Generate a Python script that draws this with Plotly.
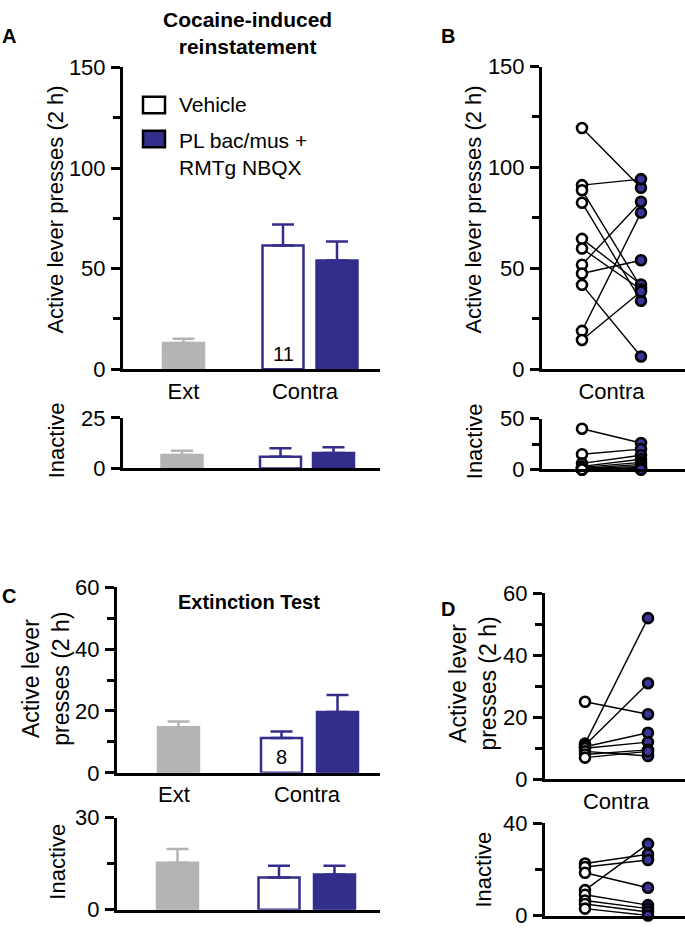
import plotly.graph_objects as go

W, H = 685, 937

# ---------------- data ----------------
groups = ["Ext", "Vehicle", "PL bac/mus + RMTg NBQX"]
categories = ["Ext", "Contra"]

# Panel A: cocaine-induced reinstatement (mean, SEM)
a_active_mean = [13.0, 61.5, 54.0]
a_active_sem = [2.2, 10.5, 9.5]
a_inactive_mean = [6.7, 5.8, 7.7]
a_inactive_sem = [2.0, 4.2, 2.8]
a_n = "11"

# Panel B: individual rats, Contra (vehicle vs PL bac/mus + RMTg NBQX)
b_active_vehicle = [119.5, 91.2, 88.7, 82.5, 64.6, 59.8, 51.8, 47.4, 41.8, 19.0, 14.5]
b_active_drug = [89.9, 94.2, 40.5, 33.9, 42.0, 39.5, 83.0, 54.0, 6.3, 77.6, 38.5]
b_inactive_vehicle = [40, 15, 6, 3, 2, 1, 1, 0, 0, 0, 0]
b_inactive_drug = [26, 20, 14, 10, 7, 5, 3, 2, 1, 0, 0]

# Panel C: extinction test (mean, SEM)
c_active_mean = [14.7, 11.3, 19.7]
c_active_sem = [1.9, 2.1, 5.5]
c_inactive_mean = [15.3, 10.5, 11.5]
c_inactive_sem = [4.5, 3.8, 2.8]
c_n = "8"

# Panel D: individual rats, extinction test
d_active_vehicle = [25.0, 11.5, 11.0, 10.5, 10.0, 9.0, 8.0, 7.0]
d_active_drug = [21.0, 52.0, 31.0, 15.0, 12.0, 7.5, 9.5, 9.0]
d_inactive_vehicle = [22.5, 21.0, 18.5, 11.0, 9.0, 6.5, 5.0, 3.0]
d_inactive_drug = [26.5, 24.0, 12.0, 31.0, 4.5, 3.0, 1.5, 0.0]

# ---------------- styles ----------------
GRAY = "#b4b4b4"
BLUE = "#332e8c"
BLUE_PT = "#3a3598"
FONT = "Liberation Sans, Arial, sans-serif"
TICK_FS = 22


def dx(a, b):
    return [a / W, b / W]


def dy(top, bottom):
    return [1 - bottom / H, 1 - top / H]


fig = go.Figure()
layout = {}

# panel geometry: (x_px0, x_px1, y_top, y_bottom, yrange, tickvals, minor)
panels = {
    1: (123, 380, 57, 367, 150, [0, 50, 100, 150], [25, 75, 125]),
    2: (123, 380, 417, 469, 25, [0, 25], []),
    3: (542, 685, 56, 367, 150, [0, 50, 100, 150], [25, 75, 125]),
    4: (542, 685, 417.7, 470, 50, [0, 50], [25]),
    5: (117, 380, 591, 781.7, 60, [0, 20, 40, 60], [10, 30, 50]),
    6: (117, 380, 827.7, 922.3, 30, [0, 30], [15]),
    7: (545, 685, 597.3, 788.3, 60, [0, 20, 40, 60], [10, 30, 50]),
    8: (545, 685, 833.3, 928.3, 40, [0, 40], [20]),
}

# x-axis category label positions (px offset from axis start)
cat_pos = {
    1: [60.5, 182.0],
    3: [69.5],
    5: [57.0, 190.0],
    7: [71.0],
}

for i, (x0, x1, yt, yb, ymax, tv, mn) in panels.items():
    sfx = "" if i == 1 else str(i)
    xa = dict(
        domain=dx(x0, x1), range=[0, x1 - x0], anchor="y" + sfx,
        showline=True, linecolor="black", linewidth=3,
        showgrid=False, zeroline=False, ticks="",
        tickfont=dict(family=FONT, size=TICK_FS, color="black"),
        fixedrange=True,
    )
    if i in cat_pos:
        xa["tickvals"] = cat_pos[i]
        xa["ticktext"] = categories if len(cat_pos[i]) == 2 else ["Contra"]
    else:
        xa["showticklabels"] = False
    ya = dict(
        domain=dy(yt, yb), range=[0, ymax], anchor="x" + sfx,
        showline=True, linecolor="black", linewidth=3,
        showgrid=False, zeroline=False,
        ticks="outside", ticklen=9, tickwidth=3, tickcolor="black",
        tickvals=tv, tickfont=dict(family=FONT, size=TICK_FS, color="black"),
        ticklabelstandoff=1,
        fixedrange=True,
    )
    if mn:
        ya["minor"] = dict(tickvals=mn, ticks="outside", ticklen=7,
                           tickwidth=3, tickcolor="black")
    layout["xaxis" + sfx] = xa
    layout["yaxis" + sfx] = ya


def add_bars(idx, pos, means, sems):
    sfx = "" if idx == 1 else str(idx)
    fills = [GRAY, "white", BLUE]
    edges = [GRAY, BLUE, BLUE]
    for k in range(3):
        fig.add_trace(go.Bar(
            x=[pos[k]], y=[means[k]], width=[41],
            marker=dict(color=fills[k], line=dict(color=edges[k], width=2.5)),
            error_y=dict(type="data", symmetric=False, array=[sems[k]],
                         arrayminus=[0], color=edges[k], thickness=2.5, width=11),
            xaxis="x" + sfx, yaxis="y" + sfx, name=groups[k],
            showlegend=False, cliponaxis=False,
        ))


add_bars(1, [60.5, 160, 214], a_active_mean, a_active_sem)
add_bars(2, [59, 157.5, 210.5], a_inactive_mean, a_inactive_sem)
add_bars(5, [61.5, 164.5, 220.5], c_active_mean, c_active_sem)
add_bars(6, [60.5, 162, 217.5], c_inactive_mean, c_inactive_sem)


def add_pairs(idx, xw, xb, veh, drug):
    sfx = "" if idx == 1 else str(idx)
    lx, ly = [], []
    for v, d in zip(veh, drug):
        lx += [xw, xb, None]
        ly += [v, d, None]
    fig.add_trace(go.Scatter(x=lx, y=ly, mode="lines",
                             line=dict(color="black", width=1.4),
                             xaxis="x" + sfx, yaxis="y" + sfx,
                             showlegend=False, cliponaxis=False))
    fig.add_trace(go.Scatter(x=[xw] * len(veh), y=veh, mode="markers",
                             marker=dict(size=10, color="white",
                                         line=dict(color="black", width=2.6)),
                             xaxis="x" + sfx, yaxis="y" + sfx,
                             showlegend=False, cliponaxis=False))
    fig.add_trace(go.Scatter(x=[xb] * len(drug), y=drug, mode="markers",
                             marker=dict(size=10, color=BLUE_PT,
                                         line=dict(color="black", width=2.6)),
                             xaxis="x" + sfx, yaxis="y" + sfx,
                             showlegend=False, cliponaxis=False))


add_pairs(3, 40, 99, b_active_vehicle, b_active_drug)
add_pairs(4, 40, 99, b_inactive_vehicle, b_inactive_drug)
add_pairs(7, 40, 103, d_active_vehicle, d_active_drug)
add_pairs(8, 40, 103, d_inactive_vehicle, d_inactive_drug)

annotations = []


def text(x, y, s, size=TICK_FS, angle=0, xanchor="center", yanchor="middle"):
    annotations.append(dict(
        x=x / W, y=1 - y / H, xref="paper", yref="paper", text=s,
        showarrow=False, textangle=angle, xanchor=xanchor, yanchor=yanchor,
        font=dict(family=FONT, size=size, color="black"),
    ))


# panel letters & titles
text(0, 25, "<b>A</b>", size=20, xanchor="left")
text(439, 25, "<b>B</b>", size=20, xanchor="left")
text(0, 600, "<b>C</b>", size=20, xanchor="left")
text(439, 613, "<b>D</b>", size=20, xanchor="left")
text(247, 22, "<b>Cocaine-induced<br>reinstatement</b>", size=21)
text(249, 606, "<b>Extinction Test</b>", size=20)

# y-axis titles
text(56, 203, "Active lever presses (2 h)", angle=-90)
text(56, 440, "Inactive", angle=-90)
text(474, 203, "Active lever presses (2 h)", angle=-90)
text(474, 441, "Inactive", angle=-90)
text(46, 685, "Active lever<br>presses (2 h)", size=23, angle=-90)
text(58, 873, "Inactive", angle=-90)
text(473, 690, "Active lever<br>presses (2 h)", size=23, angle=-90)
text(483, 881, "Inactive", angle=-90)

# n labels inside vehicle bars
annotations.append(dict(x=160, y=0, xref="x", yref="y", text=a_n, showarrow=False,
                        yanchor="bottom", yshift=2,
                        font=dict(family=FONT, size=20, color="black")))
annotations.append(dict(x=164.5, y=0, xref="x5", yref="y5", text=c_n, showarrow=False,
                        yanchor="bottom", yshift=3,
                        font=dict(family=FONT, size=20, color="black")))

# legend
shapes = [
    dict(type="rect", xref="paper", yref="paper", x0=143 / W, x1=165 / W,
         y0=1 - 104 / H, y1=1 - 87 / H, fillcolor="white",
         line=dict(color="black", width=2.5)),
    dict(type="rect", xref="paper", yref="paper", x0=143 / W, x1=165 / W,
         y0=1 - 139 / H, y1=1 - 122 / H, fillcolor=BLUE,
         line=dict(color="black", width=2.5)),
]
text(177, 95, groups[1], size=21, xanchor="left")
annotations.append(dict(x=177 / W, y=1 - 118 / H, xref="paper", yref="paper",
                        text="PL bac/mus +<br>RMTg NBQX", showarrow=False,
                        xanchor="left", yanchor="top", align="left",
                        font=dict(family=FONT, size=21, color="black")))

fig.update_layout(
    width=W, height=H, autosize=False,
    margin=dict(l=0, r=0, t=0, b=0),
    paper_bgcolor="white", plot_bgcolor="white",
    barmode="overlay", showlegend=False,
    annotations=annotations, shapes=shapes,
    **layout,
)

fig.write_html(
    "out.html",
    config={"displayModeBar": False},
    post_script="document.body.style.margin='0';document.body.style.overflow='hidden';",
)
